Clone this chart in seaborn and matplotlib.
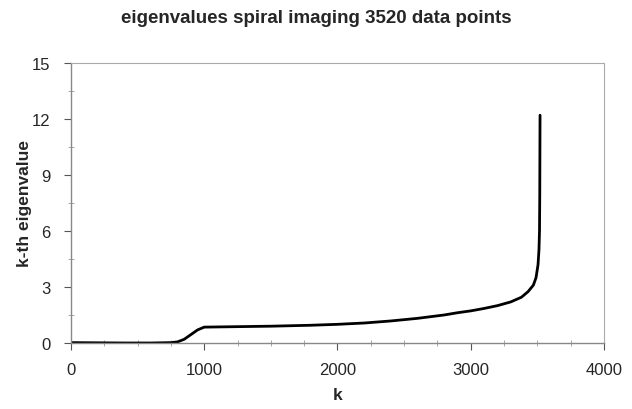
import matplotlib
matplotlib.use("Agg")
import matplotlib.pyplot as plt
import seaborn as sns
import pandas as pd
from matplotlib.ticker import MultipleLocator

k_values = [0, 200, 400, 600, 750, 800, 850, 900, 950, 1000, 1200, 1500, 1800,
            2000, 2200, 2400, 2600, 2800, 2900, 3000, 3100, 3200, 3300, 3380,
            3430, 3470, 3490, 3505, 3512, 3516, 3518, 3520]
eigenvalues = [0.02, 0.01, 0.0, 0.0, 0.02, 0.06, 0.2, 0.45, 0.7, 0.85, 0.87, 0.9,
               0.95, 1.0, 1.07, 1.18, 1.32, 1.5, 1.62, 1.72, 1.85, 2.0, 2.2, 2.45,
               2.75, 3.1, 3.5, 4.2, 5.0, 6.0, 8.0, 12.2]
x_ticks = [0, 1000, 2000, 3000, 4000]
y_ticks = [0, 3, 6, 9, 12, 15]

title = "eigenvalues spiral imaging 3520 data points"
x_label = "k"
y_label = "k-th eigenvalue"

sns.set_style("white")
plt.rcParams['font.family'] = ['Liberation Sans', 'DejaVu Sans']

df = pd.DataFrame({"k": k_values, "eig": eigenvalues})

fig = plt.figure(figsize=(6.32, 4.10), dpi=100)
ax = fig.add_axes([0.1123, 0.161, 0.8434, 0.683])
sns.lineplot(data=df, x="k", y="eig", ax=ax, color="black", linewidth=2.0)

ax.set_xlim(0, 4000)
ax.set_ylim(0, 15)
ax.set_xticks(x_ticks)
ax.set_yticks(y_ticks)
ax.xaxis.set_minor_locator(MultipleLocator(250))
ax.yaxis.set_minor_locator(MultipleLocator(1.5))
ax.tick_params(axis="x", which="major", direction="out", length=5, width=0.8,
               color="#555555", labelsize=12, pad=9, bottom=True)
ax.tick_params(axis="y", which="major", direction="out", length=5, width=0.8,
               color="#555555", labelsize=12, pad=10, left=True)
ax.tick_params(axis="both", which="minor", direction="inout", length=5, width=0.6,
               color="#999999", left=True, bottom=True)
for side in ["left", "bottom"]:
    ax.spines[side].set_color("#888888")
    ax.spines[side].set_linewidth(1.0)
for side in ["top", "right"]:
    ax.spines[side].set_color("#aaaaaa")
    ax.spines[side].set_linewidth(0.8)
    ax.spines[side].set_linestyle((0, (4, 1)))

ax.set_xlabel(x_label, fontsize=12.5, fontweight="bold", labelpad=7)
ax.set_ylabel(y_label, fontsize=12.5, fontweight="bold", labelpad=0)
fig.suptitle(title, x=0.5, y=0.975, fontsize=13.5, fontweight="bold")

fig.savefig("out.png", dpi=100)
